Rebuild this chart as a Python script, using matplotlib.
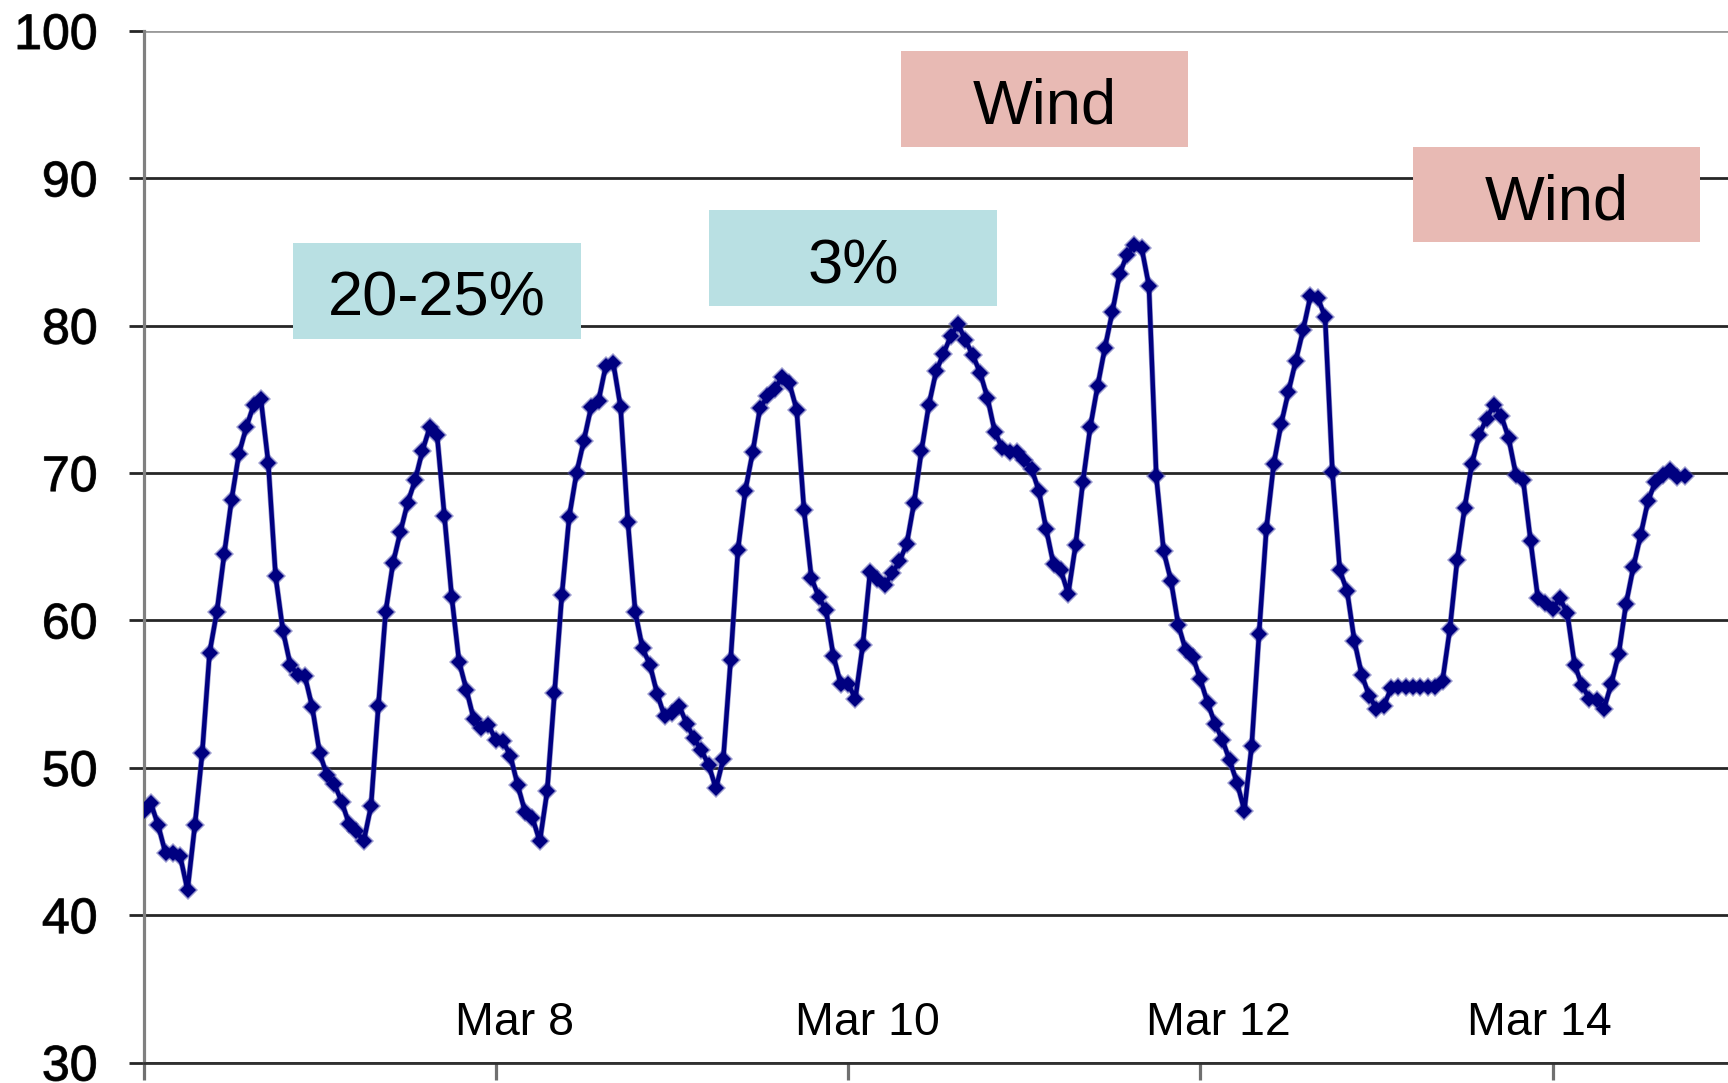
import numpy as np
import matplotlib
matplotlib.use("Agg")
import matplotlib.pyplot as plt
import matplotlib.patheffects as pe
from matplotlib.patches import Rectangle

plt.rcParams['font.family'] = ['Liberation Sans', 'DejaVu Sans']

# hourly load, starting Mar 6 00:00
load = [
    47.1, 47.6, 46.1, 44.2, 44.2, 44.0, 41.7, 46.1, 51.0, 57.8,
    60.6, 64.5, 68.2, 71.3, 73.1, 74.6, 75.0, 70.7, 63.0, 59.3,
    57.0, 56.3, 56.2, 54.1, 51.0, 49.5, 48.9, 47.7, 46.2, 45.7,
    45.0, 47.4, 54.2, 60.6, 63.9, 66.0, 68.0, 69.5, 71.5, 73.1,
    72.6, 67.1, 61.6, 57.2, 55.3, 53.3, 52.7, 52.9, 51.9, 51.8,
    50.8, 48.8, 47.0, 46.6, 45.0, 48.4, 55.1, 61.7, 67.0, 70.0,
    72.2, 74.5, 74.9, 77.3, 77.5, 74.5, 66.7, 60.6, 58.1, 57.0,
    55.0, 53.5, 53.7, 54.2, 53.0, 52.0, 51.2, 50.2, 48.6, 50.6,
    57.3, 64.8, 68.8, 71.4, 74.4, 75.2, 75.7, 76.5, 76.1, 74.3,
    67.5, 62.9, 61.6, 60.7, 57.6, 55.7, 55.7, 54.7, 58.3, 63.3,
    62.8, 62.4, 63.2, 64.0, 65.2, 68.0, 71.5, 74.6, 76.9, 78.1,
    79.3, 80.1, 79.0, 78.0, 76.8, 75.1, 72.8, 71.7, 71.4, 71.4,
    70.9, 70.3, 68.8, 66.2, 63.8, 63.4, 61.8, 65.1, 69.4, 73.1,
    75.9, 78.5, 80.9, 83.5, 84.8, 85.5, 85.3, 82.7, 69.8, 64.7,
    62.7, 59.7, 58.0, 57.5, 56.0, 54.4, 53.0, 51.9, 50.5, 49.0,
    47.1, 51.5, 59.1, 66.2, 70.6, 73.3, 75.5, 77.6, 79.7, 82.0,
    81.9, 80.6, 70.1, 63.4, 62.0, 58.6, 56.3, 54.9, 54.0, 54.2,
    55.4, 55.5, 55.5, 55.5, 55.5, 55.5, 55.5, 55.9, 59.4, 64.1,
    67.6, 70.6, 72.6, 73.7, 74.6, 73.9, 72.4, 69.9, 69.5, 65.4,
    61.5, 61.2, 60.8, 61.5, 60.5, 57.0, 55.6, 54.7, 54.6, 54.0,
    55.7, 57.7, 61.1, 63.6, 65.8, 68.1, 69.4, 69.9, 70.2, 69.7,
    69.8,
]
hours = np.arange(len(load))

day_ticks = [0, 48, 96, 144, 192]
date_labels = ['Mar 8', 'Mar 10', 'Mar 12', 'Mar 14']
date_label_x = [50.6, 98.6, 146.5, 190.2]

y_ticks = [30, 40, 50, 60, 70, 80, 90, 100]

# callout boxes: text, colour, box in pixels (left, top, right, bottom)
notes = ['20-25%', '3%', 'Wind', 'Wind']
note_colors = ['#B9E0E3', '#B9E0E3', '#E8BAB4', '#E8BAB4']
note_boxes = [(293, 243, 581, 339), (709, 210, 997, 306),
              (901, 51, 1188, 147), (1413, 147, 1700, 242)]

W, H = 1728, 1083
fig = plt.figure(figsize=(W / 100, H / 100), dpi=100)
ax = fig.add_axes([143.5 / W, 1 - 1062.5 / H, (W - 143.5) / W, (1062.5 - 31) / H])

# soft halo under the series, then the series itself
ax.plot(hours, load, color='#4a4aa8', lw=4.2, marker='D', ms=10,
        mfc='#4a4aa8', mec='#4a4aa8', mew=0, alpha=0.55, zorder=2)
ax.plot(hours, load, color='#000080', lw=3.2, marker='D', ms=8.5,
        mfc='#000080', mec='#000080', mew=0, zorder=3)

ax.set_xlim(0, (W - 143.5) / 7.339)
ax.set_ylim(30, 100)
ax.set_yticks(y_ticks)
ax.set_xticks(day_ticks)
ax.set_xticklabels([])

ax.grid(axis='y', color='#262626', lw=2.0)
ax.get_ygridlines()[-1].set_color('#9a9a9a')
ax.set_axisbelow(True)

for s in ['top', 'right']:
    ax.spines[s].set_visible(False)
ax.spines['left'].set_color('#808080')
ax.spines['left'].set_linewidth(2.3)
ax.spines['bottom'].set_color('#303030')
ax.spines['bottom'].set_linewidth(2.0)

ax.tick_params(axis='y', direction='out', length=11, width=2.0, color='#262626',
               pad=22, labelsize=36)
ax.tick_params(axis='x', direction='out', length=12.5, width=2.3, color='#707070')
for lab in ax.get_yticklabels():
    lab.set_path_effects([pe.withStroke(linewidth=0.8, foreground='#333333')])

for x, lab in zip(date_label_x, date_labels):
    ax.text(x, 31.87, lab, ha='center', va='baseline', fontsize=33.5)

for txt, col, (l, t, r, b) in zip(notes, note_colors, note_boxes):
    fig.patches.append(Rectangle((l / W, 1 - b / H), (r - l) / W, (b - t) / H,
                                 transform=fig.transFigure, facecolor=col,
                                 edgecolor='none', zorder=4))
    fig.text((l + r) / 2 / W, 1 - (b - 23) / H, txt, ha='center', va='baseline',
             fontsize=45.5, zorder=5)

fig.savefig('out.png', dpi=100)
